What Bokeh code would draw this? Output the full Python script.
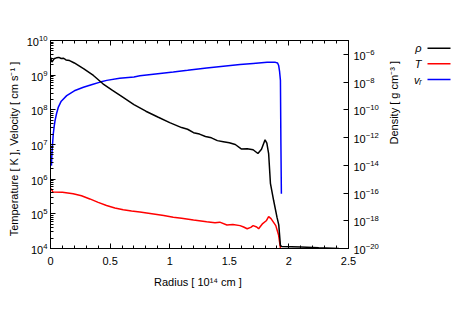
import math
from bokeh.plotting import figure
from bokeh.models import (Range1d, LogAxis, LinearAxis, LogScale, FixedTicker,
                          LogTickFormatter, ColumnDataSource, CustomJSTickFormatter)
from bokeh.layouts import row
from bokeh.core.properties import value
from bokeh.embed import file_html
from bokeh.resources import INLINE

# ---------------- data ----------------
rho_x = [0.0, 0.012, 0.03, 0.05, 0.07, 0.09, 0.11, 0.13, 0.16, 0.2, 0.28, 0.36, 0.44,
         0.52, 0.6, 0.7, 0.8, 0.9, 1.0, 1.05, 1.1, 1.15, 1.2, 1.25, 1.3, 1.35, 1.4,
         1.45, 1.5, 1.55, 1.6, 1.65, 1.7, 1.74, 1.77, 1.8, 1.815, 1.83, 1.845, 1.872,
         1.9, 1.915, 1.929, 1.94, 2.1, 2.25, 2.42]
rho_log = [-6.20, -6.56, -6.32, -6.25, -6.22, -6.30, -6.28, -6.40, -6.45, -6.62, -7.04,
           -7.52, -8.12, -8.60, -9.05, -9.62, -10.10, -10.52, -10.92, -11.10, -11.28,
           -11.40, -11.65, -11.75, -11.92, -12.02, -12.22, -12.30, -12.38, -12.50,
           -12.82, -12.80, -12.88, -13.15, -12.85, -12.16, -12.40, -13.15, -15.30,
           -16.54, -17.74, -18.30, -19.80, -19.85, -19.90, -19.95, -20.0]

temp_x = [0.0, 0.01, 0.02, 0.1, 0.19, 0.26, 0.33, 0.4, 0.47, 0.54, 0.61, 0.68, 0.75,
          0.85, 0.95, 1.03, 1.1, 1.2, 1.31, 1.38, 1.42, 1.48, 1.53, 1.59, 1.62, 1.65,
          1.68, 1.70, 1.73, 1.746, 1.78, 1.81, 1.83, 1.85, 1.87, 1.89, 1.914, 1.93]
temp_log = [5.73, 5.70, 5.63, 5.62, 5.58, 5.52, 5.43, 5.33, 5.24, 5.17, 5.12, 5.08, 5.05,
            5.00, 4.95, 4.90, 4.87, 4.82, 4.77, 4.74, 4.76, 4.68, 4.69, 4.66, 4.62, 4.57,
            4.61, 4.66, 4.62, 4.57, 4.72, 4.80, 4.92, 4.86, 4.76, 4.66, 4.38, 3.99]

vel_x = [0.008, 0.012, 0.018, 0.0235, 0.03, 0.038, 0.05, 0.066, 0.09, 0.136, 0.2, 0.276,
         0.35, 0.416, 0.472, 0.58, 0.7, 0.75, 0.9, 1.03, 1.15, 1.31, 1.45, 1.59, 1.7,
         1.817, 1.86, 1.887, 1.905, 1.914, 1.922, 1.929, 1.933, 1.937]
vel_log = [6.39, 6.75, 7.05, 7.31, 7.50, 7.69, 7.88, 8.08, 8.25, 8.41, 8.55, 8.65, 8.73,
           8.80, 8.85, 8.91, 8.95, 8.98, 9.04, 9.09, 9.14, 9.21, 9.26, 9.31, 9.34, 9.37,
           9.375, 9.37, 9.35, 9.28, 9.10, 8.85, 7.0, 5.58]

left_ticks = [1e4, 1e5, 1e6, 1e7, 1e8, 1e9, 1e10]
right_ticks = [1e-20, 1e-18, 1e-16, 1e-14, 1e-12, 1e-10, 1e-8, 1e-6]
x_ticks = [0, 0.5, 1, 1.5, 2, 2.5]
x_minor = [0.1, 0.2, 0.3, 0.4, 0.6, 0.7, 0.8, 0.9, 1.1, 1.2, 1.3, 1.4, 1.6, 1.7, 1.8,
           1.9, 2.1, 2.2, 2.3, 2.4]
legend_labels = ["ρ", "T", "vᵣ"]
series_colors = ["black", "#ff0000", "#0000ff"]

FONT = "Liberation Sans"
FS = "11px"
BL, BT, BR, BB = 50, 40, 62, 52
W, H = BL + 298 + BR, 300

p = figure(width=W, height=H, output_backend="svg", toolbar_location=None,
           y_axis_type="log", x_range=Range1d(0, 2.5), y_range=Range1d(1e4, 1e10),
           min_border_left=BL, min_border_top=BT, min_border_bottom=BB,
           min_border_right=BR)
p.extra_y_ranges = {"rho": Range1d(1e-20, 1e-5)}
p.extra_y_scales = {"rho": LogScale()}
p.xgrid.visible = False
p.ygrid.visible = False
p.outline_line_color = "black"
p.outline_line_width = 1
p.background_fill_color = "white"
p.border_fill_color = "white"

rho_src = ColumnDataSource(dict(x=rho_x, y=[10 ** v for v in rho_log]))
t_src = ColumnDataSource(dict(x=temp_x, y=[10 ** v for v in temp_log]))
v_src = ColumnDataSource(dict(x=vel_x, y=[10 ** v for v in vel_log]))

p.line("x", "y", source=t_src, line_color=series_colors[1], line_width=1.5)
p.line("x", "y", source=v_src, line_color=series_colors[2], line_width=1.5)
p.line("x", "y", source=rho_src, line_color=series_colors[0], line_width=1.5,
       y_range_name="rho")


def style_axis(ax):
    ax.major_tick_in = 5
    ax.major_tick_out = 0
    ax.minor_tick_in = 3
    ax.minor_tick_out = 0
    ax.axis_line_color = "black"
    ax.major_label_text_font = FONT
    ax.major_label_text_font_size = FS
    ax.major_label_text_color = "black"
    ax.axis_label_text_font = FONT
    ax.axis_label_text_font_size = FS
    ax.axis_label_text_font_style = "normal"
    ax.axis_label_text_color = "black"


xa = p.xaxis[0]
style_axis(xa)
xa.ticker = FixedTicker(ticks=x_ticks, minor_ticks=x_minor)
xa.axis_label = "Radius  [ 10¹⁴ cm ]"
xa.major_label_standoff = 8
xa.axis_label_standoff = 8

ya = p.yaxis[0]
style_axis(ya)
ya.ticker.num_minor_ticks = 10
ya.axis_label = "Temperature  [ K ],  Velocity  [ cm s⁻¹ ]"
ya.major_label_standoff = 3
ya.axis_label_standoff = 4

top = LinearAxis()
style_axis(top)
top.ticker = FixedTicker(ticks=x_ticks, minor_ticks=x_minor)
top.formatter = CustomJSTickFormatter(code="return ''")
top.major_label_standoff = 0
p.add_layout(top, "above")

ra = LogAxis(y_range_name="rho", axis_label="Density  [ g cm⁻³ ]")
style_axis(ra)
ra.ticker = FixedTicker(ticks=right_ticks, minor_ticks=[])
ra.formatter = LogTickFormatter()
ra.major_label_standoff = 5
ra.axis_label_standoff = 12
ra.axis_label_orientation = math.pi / 2
p.add_layout(ra, "right")

# legend panel: label then line sample, coordinates in page pixels
LW = 50
lg = figure(width=LW, height=H, output_backend="svg", toolbar_location=None,
            x_range=Range1d(W, W + LW), y_range=Range1d(248, 40),
            min_border_left=0, min_border_right=0, min_border_top=BT,
            min_border_bottom=BB)
lg.axis.visible = False
lg.xgrid.visible = False
lg.ygrid.visible = False
lg.outline_line_color = None
lg.background_fill_color = "white"
lg.border_fill_color = "white"
leg_y = [47.7, 63.3, 79]
lg.text(x=[421] * 3, y=leg_y, text=legend_labels, text_align="right",
        text_baseline="middle", text_font=value(FONT), text_font_size=FS,
        text_font_style="italic", text_color="black")
for yy, c in zip(leg_y, series_colors):
    lg.line(x=[427, 450], y=[yy, yy], line_color=c, line_width=1.5)

open("out.html", "w").write(file_html(row(p, lg), INLINE))
